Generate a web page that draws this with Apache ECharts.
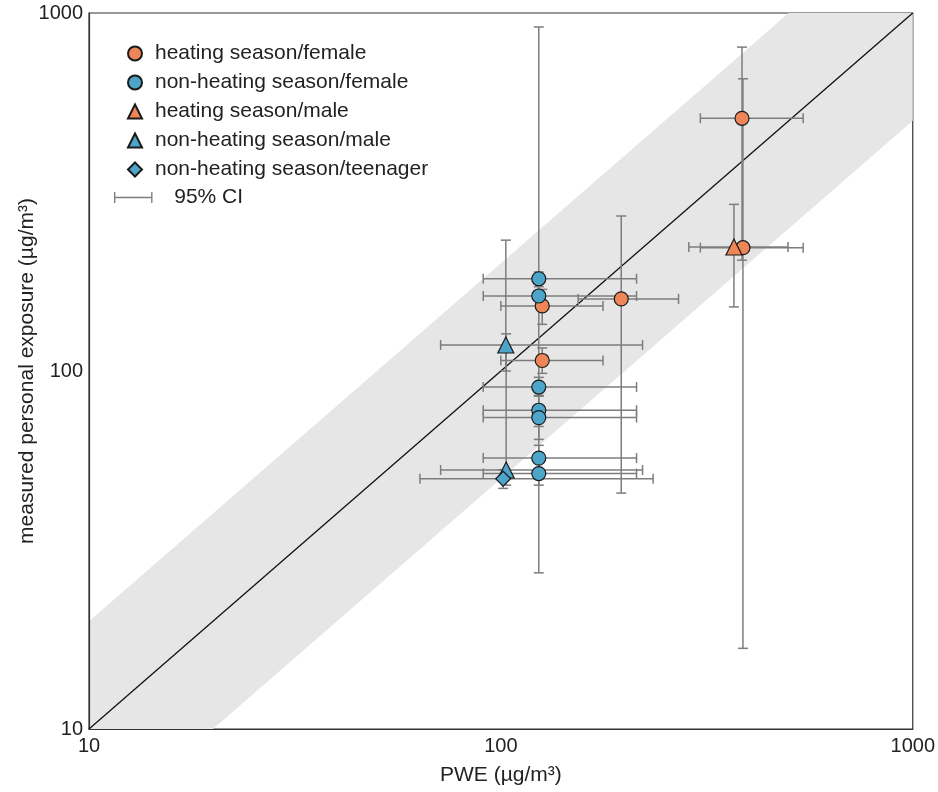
<!DOCTYPE html>
<html><head><meta charset="utf-8">
<script src="https://cdn.jsdelivr.net/npm/echarts@6/dist/echarts.min.js"></script>
<style>html,body{margin:0;padding:0;background:#fff}#c{width:938px;height:792px}</style>
</head><body><div id="c"></div>
<script>
// ---- data ----
const seriesNames = ['heating season/female','non-heating season/female','heating season/male','non-heating season/male','non-heating season/teenager'];
const tickValues = [10, 100, 1000];
const bandFactor = 2;

const hsF_x   = [126, 126, 196, 385, 387];
const hsF_y   = [152, 107, 159, 508, 221];
const hsF_xlo = [100, 100, 154, 305, 305];
const hsF_xhi = [177, 177, 270, 542, 542];
const hsF_ylo = [135, 98.5, 45.6, 204, 16.8];
const hsF_yhi = [169, 116, 271, 803, 655];

const nhF_x   = [123.6, 123.6, 123.6, 123.6, 123.6, 123.6, 123.6];
const nhF_y   = [181, 162, 90.2, 77.7, 74.1, 57.1, 51.7];
const nhF_xlo = [90.6, 90.6, 90.6, 90.6, 90.6, 90.6, 90.6];
const nhF_xhi = [213.5, 213.5, 213.5, 213.5, 213.5, 213.5, 213.5];
const nhF_ylo = [172, 27.3, 85.5, 70, 64.4, 53, 48];
const nhF_yhi = [189, 914, 96, 85, 80, 62, 56];

const hsM_x   = [368];
const hsM_y   = [222];
const hsM_xlo = [286];
const hsM_xhi = [498];
const hsM_ylo = [151];
const hsM_yhi = [292];

const nhM_x   = [102.8, 103];
const nhM_y   = [118.2, 52.9];
const nhM_xlo = [71.4, 71.4];
const nhM_xhi = [220.8, 220.8];
const nhM_ylo = [100, 48];
const nhM_yhi = [232, 127];

const teen_x   = [101.3];
const teen_y   = [50];
const teen_xlo = [63.6];
const teen_xhi = [234.2];
const teen_ylo = [47];
const teen_yhi = [53];

// ---- build ----
const groups = [
  [hsF_x, hsF_y, hsF_xlo, hsF_xhi, hsF_ylo, hsF_yhi],
  [nhF_x, nhF_y, nhF_xlo, nhF_xhi, nhF_ylo, nhF_yhi],
  [hsM_x, hsM_y, hsM_xlo, hsM_xhi, hsM_ylo, hsM_yhi],
  [nhM_x, nhM_y, nhM_xlo, nhM_xhi, nhM_ylo, nhM_yhi],
  [teen_x, teen_y, teen_xlo, teen_xhi, teen_ylo, teen_yhi]
];
const ORANGE = '#EF8657', BLUE = '#4DA5CA';
const colors = [ORANGE, BLUE, ORANGE, BLUE, BLUE];
const symbols = ['circle','circle','triangle','triangle','diamond'];
const sizes = [14, 14, 16, 16, 15];

const errRows = [];
groups.forEach(g => g[0].forEach((_, i) => errRows.push([g[0][i], g[1][i], g[2][i], g[3][i], g[4][i], g[5][i]])));

const FONT = '"Liberation Sans", Arial, sans-serif';
const ERR = '#7d7d7d';

const scatterSeries = groups.map((g, k) => ({
  name: seriesNames[k], type: 'scatter', z: 5,
  symbol: symbols[k], symbolSize: sizes[k],
  itemStyle: { color: colors[k], borderColor: '#1a1a1a', borderWidth: 1.2, opacity: 1 },
  data: g[0].map((x, i) => [x, g[1][i]])
}));

const fmt = v => String(Math.round(v));

const chart = echarts.init(document.getElementById('c'), null, { renderer: 'canvas' });
chart.setOption({
  animation: false,
  backgroundColor: '#fff',
  textStyle: { fontFamily: FONT },
  grid: { left: 89, right: 25, top: 13, bottom: 63, show: true, borderColor: '#333', borderWidth: 1.2, backgroundColor: 'transparent' },
  xAxis: {
    type: 'log', logBase: 10, min: tickValues[0], max: tickValues[tickValues.length - 1],
    name: 'PWE (µg/m³)', nameLocation: 'middle', nameGap: 36, nameMoveOverlap: false,
    nameTextStyle: { fontSize: 21, color: '#222', fontFamily: FONT },
    axisLine: { show: true, lineStyle: { color: '#333', width: 1.2 } },
    axisTick: { show: false }, minorTick: { show: false }, splitLine: { show: false },
    axisLabel: { fontSize: 20, color: '#222', margin: 7, fontFamily: FONT, formatter: fmt }
  },
  yAxis: {
    type: 'log', logBase: 10, min: tickValues[0], max: tickValues[tickValues.length - 1],
    name: 'measured personal exposure (µg/m³)', nameLocation: 'middle', nameGap: 51, nameMoveOverlap: false,
    nameTextStyle: { fontSize: 21, color: '#222', fontFamily: FONT },
    axisLine: { show: true, lineStyle: { color: '#333', width: 1.2 } },
    axisTick: { show: false }, minorTick: { show: false }, splitLine: { show: false },
    axisLabel: { fontSize: 20, color: '#222', margin: 6, fontFamily: FONT, formatter: fmt }
  },
  legend: [{
    data: seriesNames, orient: 'vertical', left: 122, top: 38,
    itemWidth: 14, itemHeight: 14, itemGap: 8,
    textStyle: { fontSize: 21, color: '#222', fontFamily: FONT, padding: [0, 0, 0, 8] }
  }, {
    data: ['95% CI'], orient: 'vertical', left: 109, top: 182,
    itemWidth: 42, itemHeight: 11,
    icon: 'path://M0,0H1.5V12H0Z M0,5.25H42V6.75H0Z M40.5,0H42V12H40.5Z',
    itemStyle: { color: ERR },
    textStyle: { fontSize: 21, color: '#222', fontFamily: FONT, padding: [0, 0, 0, 15] }
  }],
  series: [
    {
      type: 'custom', name: 'band', z: 0, silent: true,
      data: [[tickValues[0], tickValues[0]]],
      renderItem: (params, api) => {
        const lo = tickValues[0], hi = tickValues[tickValues.length - 1];
        const pts = [
          [lo, lo * bandFactor], [hi / bandFactor, hi], [hi, hi],
          [hi, hi / bandFactor], [lo * bandFactor, lo], [lo, lo]
        ].map(p => api.coord(p));
        return { type: 'polygon', shape: { points: pts }, style: { fill: '#E6E6E6' } };
      }
    },
    {
      type: 'line', name: 'diag', z: 1, silent: true, symbol: 'none',
      lineStyle: { color: '#111', width: 1.3 },
      data: [[tickValues[0], tickValues[0]], [tickValues[tickValues.length - 1], tickValues[tickValues.length - 1]]]
    },
    {
      type: 'custom', name: '95% CI', z: 2,
      itemStyle: { color: ERR },
      encode: { x: 0, y: 1 },
      data: errRows,
      renderItem: (params, api) => {
        const x = api.value(0), y = api.value(1);
        const a = api.coord([api.value(2), y]), b = api.coord([api.value(3), y]);
        const c = api.coord([x, api.value(4)]), d = api.coord([x, api.value(5)]);
        const h = 5;
        const st = { stroke: ERR, lineWidth: 1.5, fill: null };
        const L = (x1, y1, x2, y2) => ({ type: 'line', shape: { x1, y1, x2, y2 }, style: st });
        return { type: 'group', children: [
          L(a[0], a[1], b[0], b[1]), L(a[0], a[1] - h, a[0], a[1] + h), L(b[0], b[1] - h, b[0], b[1] + h),
          L(c[0], c[1], d[0], d[1]), L(c[0] - h, c[1], c[0] + h, c[1]), L(d[0] - h, d[1], d[0] + h, d[1])
        ]};
      }
    }
  ].concat(scatterSeries)
});
</script></body></html>
